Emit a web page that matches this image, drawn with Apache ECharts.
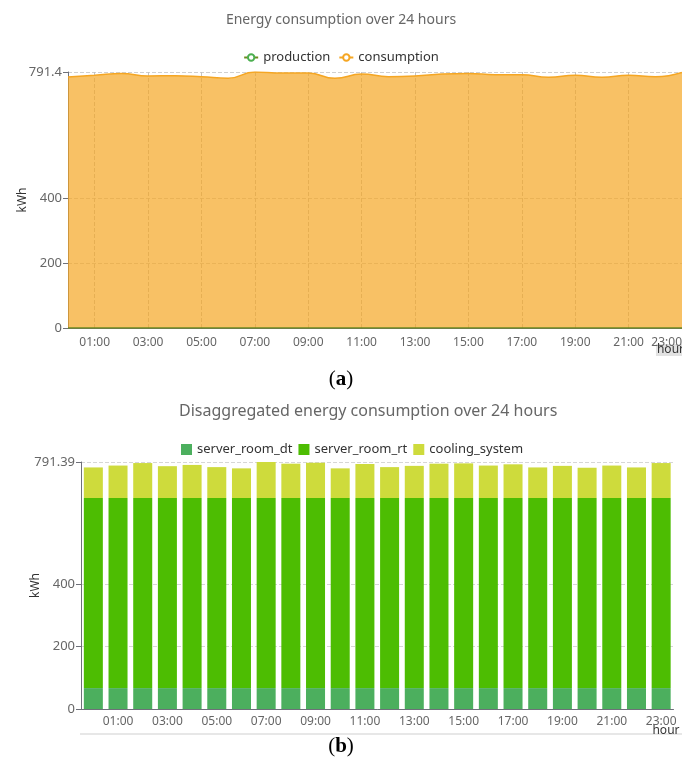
<!DOCTYPE html>
<html>
<head>
<meta charset="utf-8">
<script src="https://cdn.jsdelivr.net/npm/echarts@6/dist/echarts.min.js"></script>
<style>
  html, body { margin: 0; padding: 0; background: #fff; }
  #chart { width: 682px; height: 769px; }
</style>
</head>
<body>
<div id="chart"></div>
<script>
// Hourly categories
const hours = ['00:00','01:00','02:00','03:00','04:00','05:00','06:00','07:00','08:00','09:00','10:00','11:00',
               '12:00','13:00','14:00','15:00','16:00','17:00','18:00','19:00','20:00','21:00','22:00','23:00'];

// Chart (a): production vs consumption, kWh
const production  = [0,0,0,0,0,0,0,0,0,0,0,0,0,0,0,0,0,0,0,0,0,0,0,0];
const consumption = [776,781,787,779,780,777,772,791.4,788,788,772,785,777,779,785,787,783,783,775,781,775,781,777,790];

// Chart (b): disaggregated consumption, kWh
const serverRoomDt  = [67,67,67,67,67,67,67,67,67,67,67,67,67,67,67,67,67,67,67,67,67,67,67,67];
const serverRoomRt  = [609,609,609,609,609,609,609,609,609,609,609,609,609,609,609,609,609,609,609,609,609,609,609,609];
const coolingSystem = [98,104,112,102,106,99,95,115.39,110,113,95,109,99,103,110,111,104,108,98,103,97,104,98,112];

// Y axis tick values
const ticksA = [0, 200, 400, 791.4];
const ticksB = [0, 200, 400, 791.39];

const FONT = '"Noto Sans", sans-serif';
const GRAY = '#666';

const chart = echarts.init(document.getElementById('chart'), null, { renderer: 'canvas' });

const oddHour = (idx) => idx % 2 === 1;

chart.setOption({
  animation: false,
  textStyle: { fontFamily: FONT },
  title: [
    {
      text: 'Energy consumption over 24 hours',
      left: 'center', top: 8,
      textStyle: { fontFamily: FONT, fontSize: 14, fontWeight: 'normal', color: GRAY }
    },
    {
      text: 'Disaggregated energy consumption over 24 hours',
      left: 174, top: 398,
      textStyle: { fontFamily: FONT, fontSize: 16, fontWeight: 'normal', color: GRAY }
    }
  ],
  legend: [
    {
      data: ['production', 'consumption'],
      left: 'center', top: 46,
      itemWidth: 14, itemHeight: 8, itemGap: 8,
      textStyle: { fontFamily: FONT, fontSize: 13, color: '#333' }
    },
    {
      data: ['server_room_dt', 'server_room_rt', 'cooling_system'],
      left: 176, top: 438,
      icon: 'rect', itemWidth: 11, itemHeight: 11, itemGap: 6,
      textStyle: { fontFamily: FONT, fontSize: 13, color: '#333' }
    }
  ],
  grid: [
    { left: 68, right: 0, top: 72, height: 256, outerBoundsMode: 'none', containLabel: false },
    { left: 81, top: 462, width: 592.5, height: 247, outerBoundsMode: 'none', containLabel: false }
  ],
  xAxis: [
    {
      gridIndex: 0, type: 'category', data: hours, boundaryGap: false,
      name: '{h|hour}', nameLocation: 'end', nameGap: 3, nameMoveOverlap: false,
      nameTextStyle: {
        fontFamily: FONT, fontSize: 12, color: '#333', align: 'right', verticalAlign: 'top',
        padding: [16, 0, 0, 0],
        rich: { h: { fontFamily: FONT, fontSize: 12, color: '#333', backgroundColor: '#e2e2e2', padding: [0, 1, 0, 1] } }
      },
      axisLine: { lineStyle: { color: '#6E7079' } },
      axisTick: { show: false },
      axisLabel: { interval: oddHour, color: GRAY, fontSize: 12, margin: 9, alignMaxLabel: 'right' },
      splitLine: { show: true, lineStyle: { type: 'dashed', color: '#c4c4c4' } }
    },
    {
      gridIndex: 1, type: 'category', data: hours, boundaryGap: true,
      name: 'hour', nameLocation: 'end', nameGap: 6, nameMoveOverlap: false,
      nameTextStyle: { fontFamily: FONT, fontSize: 12, color: '#333', align: 'right', verticalAlign: 'top',
                       padding: [16, 0, 0, 0] },
      axisLine: { lineStyle: { color: '#6E7079' } },
      axisTick: { show: false },
      axisLabel: { interval: oddHour, color: GRAY, fontSize: 12, margin: 7 },
      splitLine: { show: false }
    }
  ],
  yAxis: [
    {
      gridIndex: 0, type: 'value', min: 0, max: 791.4,
      name: 'kWh', nameLocation: 'middle', nameGap: 39, nameMoveOverlap: false,
      nameTextStyle: { fontFamily: FONT, fontSize: 12, color: '#333' },
      axisLine: { show: true, lineStyle: { color: '#6E7079' } },
      axisTick: { show: true, customValues: ticksA },
      axisLabel: { customValues: ticksA, color: GRAY, fontSize: 13, margin: 6 },
      splitLine: { show: true, lineStyle: { type: 'dashed', color: '#d0d0d0' } }
    },
    {
      gridIndex: 1, type: 'value', min: 0, max: 791.39,
      name: 'kWh', nameLocation: 'middle', nameGap: 39, nameMoveOverlap: false,
      nameTextStyle: { fontFamily: FONT, fontSize: 12, color: '#333' },
      axisLine: { show: true, lineStyle: { color: '#6E7079' } },
      axisTick: { show: true, customValues: ticksB },
      axisLabel: { customValues: ticksB, color: GRAY, fontSize: 13, margin: 6 },
      splitLine: { show: true, lineStyle: { type: 'dashed', color: '#d6d6d6' } }
    }
  ],
  series: [
    {
      name: 'consumption', type: 'line', xAxisIndex: 0, yAxisIndex: 0,
      data: consumption, smooth: true, showSymbol: false, symbol: 'emptyCircle',
      itemStyle: { color: '#F5A623' },
      lineStyle: { color: '#F5A623', width: 1.5 },
      areaStyle: { color: '#F5A623', opacity: 0.7 },
      z: 2
    },
    {
      name: 'production', type: 'line', xAxisIndex: 0, yAxisIndex: 0,
      data: production, smooth: true, showSymbol: false, symbol: 'emptyCircle',
      itemStyle: { color: '#4CAF50' },
      lineStyle: { color: '#6E8B1E', width: 1.5 },
      z: 3
    },
    {
      name: 'server_room_dt', type: 'bar', stack: 'total', xAxisIndex: 1, yAxisIndex: 1,
      data: serverRoomDt, barCategoryGap: '23%',
      itemStyle: { color: '#4CAF5E' }
    },
    {
      name: 'server_room_rt', type: 'bar', stack: 'total', xAxisIndex: 1, yAxisIndex: 1,
      data: serverRoomRt, barCategoryGap: '23%',
      itemStyle: { color: '#4DBD02' }
    },
    {
      name: 'cooling_system', type: 'bar', stack: 'total', xAxisIndex: 1, yAxisIndex: 1,
      data: coolingSystem, barCategoryGap: '23%',
      itemStyle: { color: '#CEDB3C' }
    }
  ],
  graphic: [
    {
      type: 'line', silent: true,
      shape: { x1: 80, y1: 734, x2: 682, y2: 734 },
      style: { stroke: '#cfcfcf', lineWidth: 1 }
    },
    {
      type: 'text', left: 'center', top: 369,
      style: {
        text: '({a|a})',
        font: '21px "Liberation Serif", serif',
        fill: '#000',
        rich: { a: { font: 'bold 21px "Liberation Serif", serif', fill: '#000' } }
      }
    },
    {
      type: 'text', left: 'center', top: 736,
      style: {
        text: '({b|b})',
        font: '21px "Liberation Serif", serif',
        fill: '#000',
        rich: { b: { font: 'bold 21px "Liberation Serif", serif', fill: '#000' } }
      }
    }
  ]
});
</script>
</body>
</html>
